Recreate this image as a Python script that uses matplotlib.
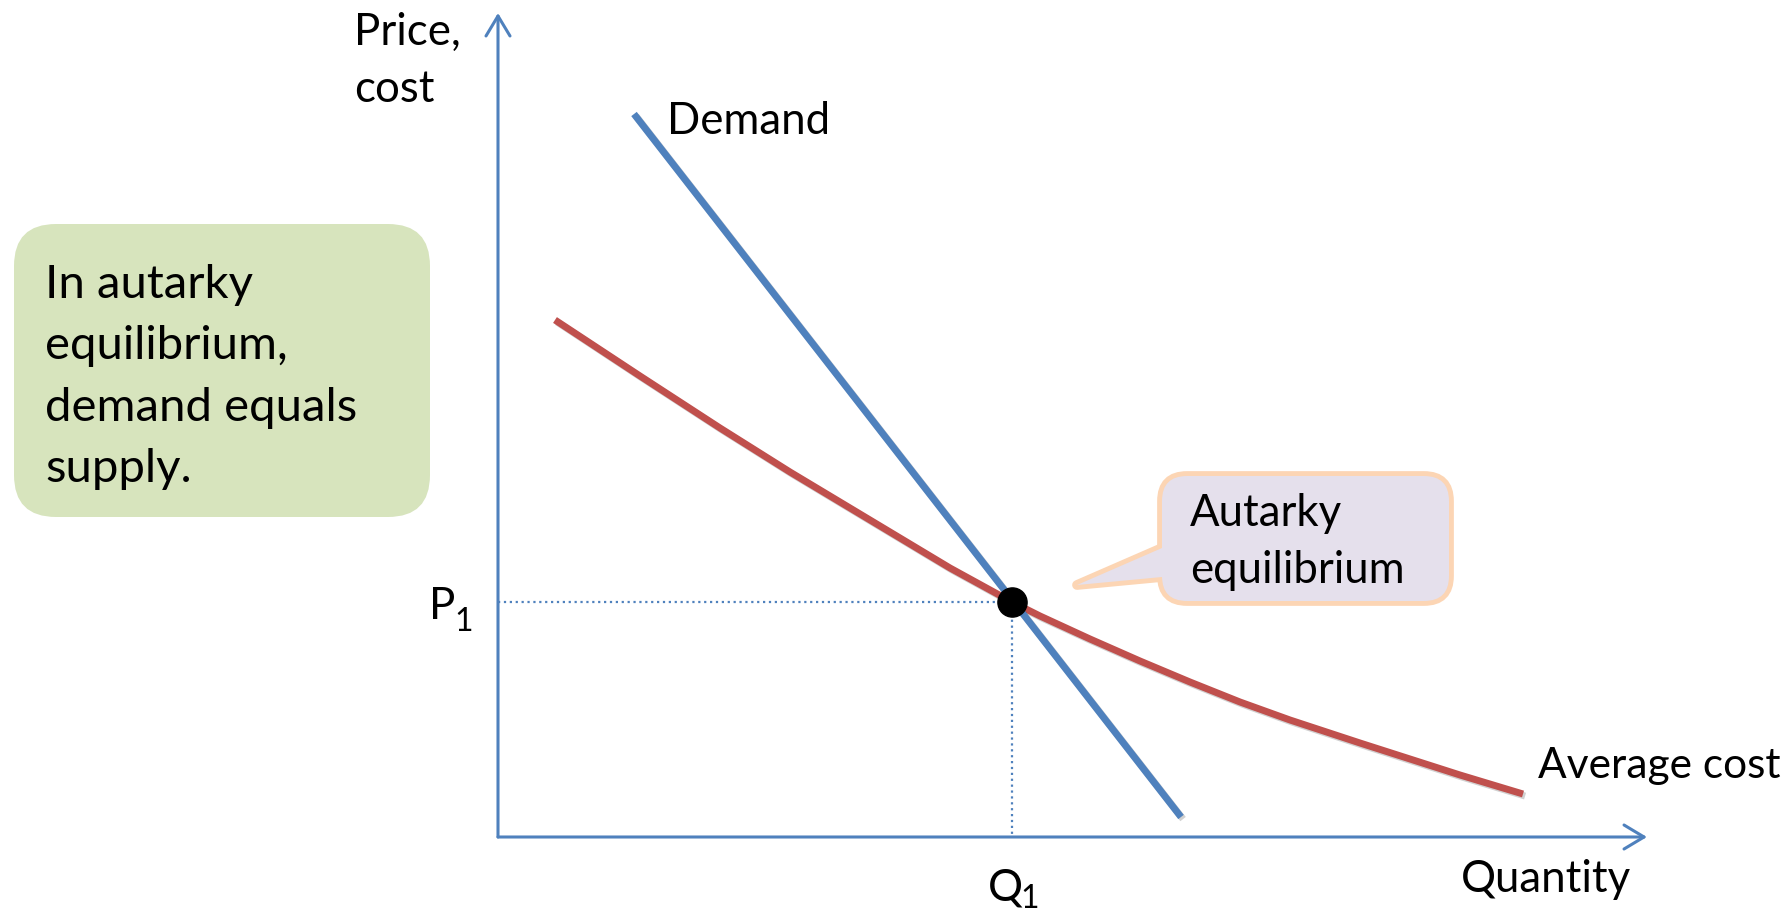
import matplotlib.pyplot as plt
import matplotlib.patheffects as pe
from matplotlib.patches import FancyBboxPatch, Polygon

plt.rcParams['font.family'] = ['Lato', 'DejaVu Sans']

# demand line (quantity, price)
demand_q = [1.36, 6.83]
demand_p = [7.23, 0.20]

# average cost curve
ac_q = [0.57, 1.42, 2.22, 2.92, 3.72, 4.52, 5.14, 5.42, 5.92, 6.42, 6.92,
        7.42, 7.92, 8.62, 9.12, 9.62, 10.25]
ac_p = [5.17, 4.61, 4.09, 3.65, 3.17, 2.69, 2.35, 2.21, 1.98, 1.76, 1.55,
        1.35, 1.17, 0.94, 0.78, 0.62, 0.43]

# autarky equilibrium
q1, p1 = 5.14, 2.35

blue = '#4F81BD'
red = '#C0504D'
axis_top = 8.24
axis_right = 11.49


def main():
    fig = plt.figure(figsize=(17.87, 9.12), dpi=100)
    ax = fig.add_axes([0, 0, 1, 1])
    ax.set_xlim(-4.98, 12.89)
    ax.set_ylim(-0.74, 8.38)
    ax.axis('off')

    # axes with open arrow heads
    arrow = dict(arrowstyle='->,head_length=0.45,head_width=0.27', lw=2.2,
                 color=blue, mutation_scale=32, shrinkA=0, shrinkB=0)
    ax.annotate('', xy=(0, axis_top), xytext=(0, 0), arrowprops=arrow)
    ax.annotate('', xy=(axis_right, 0), xytext=(0, 0), arrowprops=arrow)

    # dotted guides to the equilibrium
    ax.plot([0, q1], [p1, p1], ls=':', lw=1.6, color=blue)
    ax.plot([q1, q1], [p1, 0], ls=':', lw=1.6, color=blue)

    # curves, with a faint drop shadow
    shadow = [pe.SimpleLineShadow(offset=(1.5, -1.5), alpha=0.18), pe.Normal()]
    ax.plot(ac_q, ac_p, color=red, lw=5, solid_capstyle='butt',
            solid_joinstyle='round', path_effects=shadow, zorder=3)
    ax.plot(demand_q, demand_p, color=blue, lw=5, solid_capstyle='butt',
            path_effects=shadow, zorder=4)
    ax.plot([q1], [p1], 'o', color='black', markersize=21, zorder=5)

    # labels
    fs = 31.5
    ax.text(-1.44, 7.36, 'Price,\ncost', fontsize=fs, va='baseline', linespacing=1.5)
    ax.text(1.69, 7.035, 'Demand', fontsize=fs, va='baseline')
    ax.text(10.40, 0.60, 'Average cost', fontsize=30.5, va='baseline')
    ax.text(9.63, -0.54, 'Quantity', fontsize=fs, va='baseline')
    ax.text(-0.69, 2.19, 'P', fontsize=31.5, va='baseline')
    ax.text(-0.44, 2.07, '1', fontsize=23, va='baseline')
    ax.text(4.90, -0.63, 'Q', fontsize=31.5, va='baseline')
    ax.text(5.22, -0.70, '1', fontsize=23, va='baseline')

    # green note box
    note = FancyBboxPatch((-4.84, 3.20), 4.16, 2.93,
                          boxstyle='round,pad=0,rounding_size=0.42',
                          facecolor='#D7E4BD', edgecolor='none', zorder=1)
    ax.add_patch(note)
    ax.text(-4.53, 3.56, 'In autarky\nequilibrium,\ndemand equals\nsupply.',
            fontsize=34, va='baseline', linespacing=1.57, zorder=2)

    # callout: outline pass then face pass to hide the seam
    box_xy, box_w, box_h = (6.64, 2.36), 2.87, 1.25
    tail = [(5.79, 2.52), (6.64, 2.89), (6.85, 2.89), (6.85, 2.60), (6.64, 2.60)]
    face = '#E5E0EC'
    edge = '#FCD5B4'
    for fc, ec, z in [(face, edge, 6), (face, 'none', 7)]:
        ax.add_patch(FancyBboxPatch(box_xy, box_w, box_h,
                                    boxstyle='round,pad=0,rounding_size=0.25',
                                    facecolor=fc, edgecolor=ec, lw=7, zorder=z))
        ax.add_patch(Polygon(tail, closed=True, facecolor=fc, edgecolor=ec,
                             lw=7, joinstyle='round', zorder=z))
    ax.text(6.92, 2.55, 'Autarky\nequilibrium', fontsize=fs, va='baseline',
            linespacing=1.5, zorder=8)

    fig.savefig('out.png', dpi=100)


if __name__ == '__main__':
    main()
